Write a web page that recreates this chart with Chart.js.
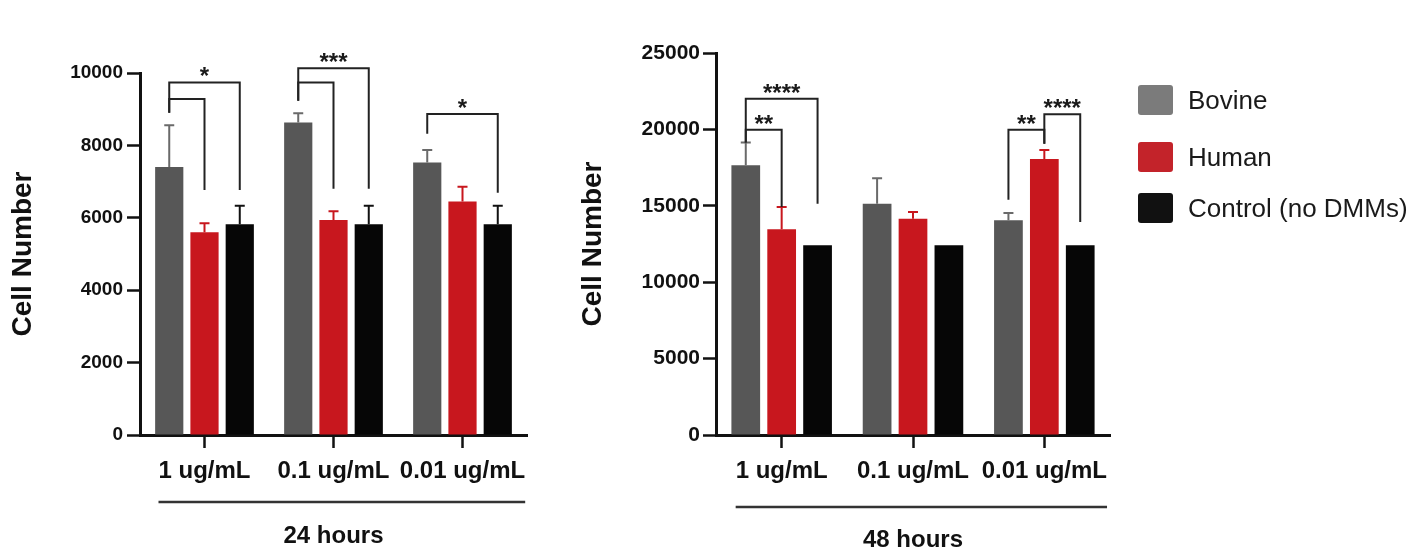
<!DOCTYPE html>
<html>
<head>
<meta charset="utf-8">
<script src="https://cdn.jsdelivr.net/npm/chart.js@4.4.0/dist/chart.umd.min.js"></script>
<style>
  body { margin: 0; background: #fff; width: 1416px; height: 553px; overflow: hidden; position: relative;
         font-family: "Liberation Sans", Arial, sans-serif; }
  #wrap24 { position: absolute; left: 0; top: 0; width: 560px; height: 553px; }
  #wrap48 { position: absolute; left: 576px; top: 0; width: 564px; height: 553px; }
  #legend { position: absolute; left: 1138px; top: 0; }
  .legend-row { position: absolute; left: 0; display: flex; align-items: center; height: 30px; white-space: nowrap; }
  .legend-box { width: 35px; height: 30px; border-radius: 3px; margin-right: 15px; }
  .legend-text { font-size: 26px; color: #1a1a1a; }
</style>
</head>
<body>
<div id="wrap24"><canvas id="chart24"></canvas></div>
<div id="wrap48"><canvas id="chart48"></canvas></div>
<div id="legend"></div>
<script>
const FONT = '"Liberation Sans", Arial, sans-serif';

const doseLabels = ['1 ug/mL', '0.1 ug/mL', '0.01 ug/mL'];
const seriesNames = ['Bovine', 'Human', 'Control (no DMMs)'];
const barColors = ['#575757', '#c8171e', '#060606'];
const errorColors = ['#6a6a6a', '#c8171e', '#111111'];
const legendColors = ['#7b7b7b', '#c3232a', '#111111'];

// 24 hours
const bovine24 = [7400, 8630, 7530];
const human24 = [5600, 5940, 6450];
const control24 = [5820, 5820, 5820];
const bovine24Err = [1160, 260, 340];
const human24Err = [250, 240, 410];
const control24Err = [510, 510, 510];
const ticks24 = [0, 2000, 4000, 6000, 8000, 10000];

// 48 hours
const bovine48 = [17650, 15130, 14050];
const human48 = [13460, 14160, 18060];
const control48 = [12420, 12420, 12420];
const bovine48Err = [1500, 1670, 480];
const human48Err = [1460, 430, 590];
const control48Err = [0, 0, 0];
const ticks48 = [0, 5000, 10000, 15000, 20000, 25000];

// significance brackets: [group, fromBar, toBar, line value, drop on from side, drop on to side, stars]
const sig24 = [
  [0, 0, 2, 9740, 8900, 6770, '*'],
  [0, 0, 1, 9280, 8900, 6770, ''],
  [1, 0, 2, 10130, 9230, 6800, '***'],
  [1, 0, 1, 9740, 9230, 6800, ''],
  [2, 0, 2, 8870, 8320, 6690, '*']
];
const sig48 = [
  [0, 0, 2, 22000, 19150, 15140, '****'],
  [0, 0, 1, 19970, 19150, 14920, '**'],
  [2, 0, 1, 19970, 15400, 19060, '**'],
  [2, 1, 2, 20990, 19060, 13940, '****']
];

function annotations(brackets, lineGap) {
  return {
    id: 'annotations',
    afterDatasetsDraw(chart) {
      const ctx = chart.ctx;
      const y = chart.scales.y;
      ctx.save();
      // one-sided error bars
      chart.data.datasets.forEach((ds, i) => {
        chart.getDatasetMeta(i).data.forEach((bar, j) => {
          const err = ds.errors[j];
          if (!err) return;
          const top = y.getPixelForValue(ds.data[j] + err);
          ctx.strokeStyle = ds.errorColor;
          ctx.lineWidth = 2;
          ctx.beginPath();
          ctx.moveTo(bar.x, bar.y);
          ctx.lineTo(bar.x, top);
          ctx.moveTo(bar.x - 5, top);
          ctx.lineTo(bar.x + 5, top);
          ctx.stroke();
        });
      });
      // brackets + stars
      ctx.strokeStyle = '#222';
      ctx.fillStyle = '#1a1a1a';
      ctx.lineWidth = 2;
      ctx.font = 'bold 24px ' + FONT;
      ctx.textAlign = 'center';
      ctx.textBaseline = 'alphabetic';
      brackets.forEach(([g, a, b, v, da, db, stars]) => {
        const xa = chart.getDatasetMeta(a).data[g].x;
        const xb = chart.getDatasetMeta(b).data[g].x;
        const yl = y.getPixelForValue(v);
        ctx.beginPath();
        ctx.moveTo(xa, y.getPixelForValue(da));
        ctx.lineTo(xa, yl);
        ctx.lineTo(xb, yl);
        ctx.lineTo(xb, y.getPixelForValue(db));
        ctx.stroke();
        if (stars) ctx.fillText(stars, (xa + xb) / 2, yl + 2);
      });
      ctx.restore();
    },
    afterDraw(chart) {
      // rule under the dose labels
      const ctx = chart.ctx;
      const x = chart.scales.x;
      ctx.save();
      ctx.font = 'bold 24px ' + FONT;
      const n = x.ticks.length;
      const x0 = x.getPixelForTick(0) - ctx.measureText(doseLabels[0]).width / 2;
      const x1 = x.getPixelForTick(n - 1) + ctx.measureText(doseLabels[n - 1]).width / 2;
      const yy = chart.chartArea.bottom + lineGap;
      ctx.strokeStyle = '#333';
      ctx.lineWidth = 2.5;
      ctx.beginPath();
      ctx.moveTo(x0, yy);
      ctx.lineTo(x1, yy);
      ctx.stroke();
      ctx.restore();
    }
  };
}

function buildChart(id, series, errors, ticks, brackets, period, o) {
  return new Chart(document.getElementById(id), {
    type: 'bar',
    data: {
      labels: doseLabels,
      datasets: series.map((d, i) => ({
        label: seriesNames[i],
        data: d,
        errors: errors[i],
        errorColor: errorColors[i],
        backgroundColor: barColors[i],
        categoryPercentage: 0.82,
        barPercentage: 0.8
      }))
    },
    options: {
      responsive: true,
      maintainAspectRatio: false,
      animation: false,
      layout: { padding: { top: o.top, right: o.right, left: 0, bottom: 0 } },
      plugins: { legend: { display: false }, tooltip: { enabled: false } },
      scales: {
        x: {
          grid: { display: true, drawOnChartArea: false, offset: false, tickLength: 13, tickWidth: 2.5, tickColor: '#111' },
          border: { display: true, width: 3, color: '#111' },
          ticks: { color: '#111', padding: 9, maxRotation: 0, autoSkip: false,
                   font: { family: FONT, size: 24, weight: 'bold' } },
          title: { display: true, text: period, color: '#111',
                   font: { family: FONT, size: 24, weight: 'bold', lineHeight: 1 },
                   padding: { top: 0, bottom: o.titleBottom } },
          afterFit: s => { s.height = 118; }
        },
        y: {
          min: ticks[0],
          max: ticks[ticks.length - 1],
          grid: { display: true, drawOnChartArea: false, tickLength: 13, tickWidth: 2.5, tickColor: '#111' },
          border: { display: true, width: 3, color: '#111' },
          ticks: { stepSize: ticks[1] - ticks[0], color: '#111', padding: o.tickPad,
                   callback: v => String(v),
                   font: { family: FONT, size: o.tickSize, weight: 'bold' } },
          title: { display: true, text: 'Cell Number', color: '#111',
                   font: { family: FONT, size: 28, weight: 'bold' },
                   padding: { top: o.yTitlePad, bottom: 0 } },
          afterFit: s => { s.width = 140; }
        }
      }
    },
    plugins: [annotations(brackets, o.lineGap)]
  });
}

buildChart('chart24', [bovine24, human24, control24], [bovine24Err, human24Err, control24Err],
  ticks24, sig24, '24 hours',
  { top: 73, right: 33, titleBottom: 5, tickSize: 19, tickPad: 4, yTitlePad: 6, lineGap: 67 });

buildChart('chart48', [bovine48, human48, control48], [bovine48Err, human48Err, control48Err],
  ticks48, sig48, '48 hours',
  { top: 53, right: 30, titleBottom: 1, tickSize: 21, tickPad: 3, yTitlePad: 0, lineGap: 72 });

// legend
const legendTops = [85, 142, 193];
const legend = document.getElementById('legend');
seriesNames.forEach((name, i) => {
  const row = document.createElement('div');
  row.className = 'legend-row';
  row.style.top = legendTops[i] + 'px';
  row.innerHTML = '<div class="legend-box" style="background:' + legendColors[i] + '"></div>' +
                  '<span class="legend-text">' + name + '</span>';
  legend.appendChild(row);
});
</script>
</body>
</html>
